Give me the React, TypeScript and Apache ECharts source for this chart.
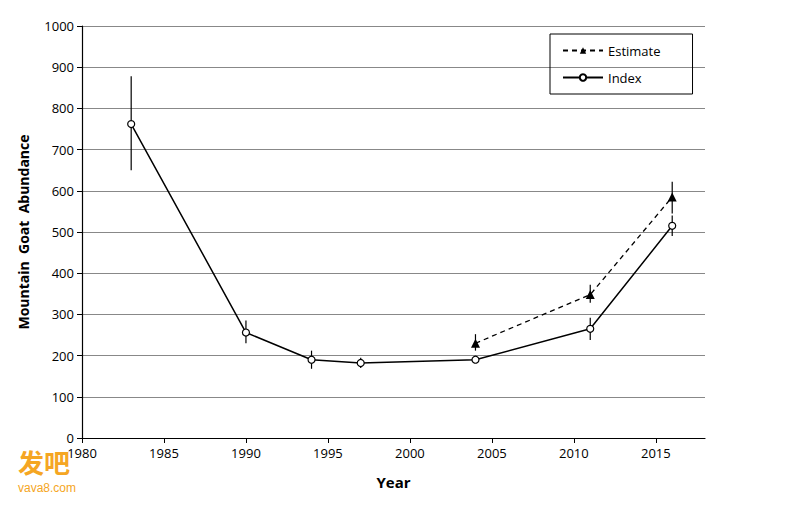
import React, { useEffect, useRef } from "react";
import * as echarts from "echarts";

const indexYears = [1983, 1990, 1994, 1997, 2004, 2011, 2016];
const indexValues = [762, 256, 190, 182, 190, 265, 515];
const indexLow = [650, 230, 168, 170, 183, 238, 490];
const indexHigh = [878, 285, 212, 195, 197, 292, 540];

const estYears = [2004, 2011, 2016];
const estValues = [230, 348, 585];
const estLow = [212, 328, 545];
const estHigh = [252, 372, 622];

const errSeries = (years: number[], lo: number[], hi: number[]) => ({
  type: "custom",
  silent: true,
  z: 1,
  data: years.map((y, i) => [y, lo[i], hi[i]]),
  renderItem: (_p: any, api: any) => {
    const a = api.coord([api.value(0), api.value(1)]);
    const b = api.coord([api.value(0), api.value(2)]);
    return {
      type: "line",
      shape: { x1: a[0], y1: a[1], x2: b[0], y2: b[1] },
      style: { stroke: "#000", lineWidth: 1.2 },
    };
  },
});

const App: React.FC = () => {
  const ref = useRef<HTMLDivElement>(null);

  useEffect(() => {
    if (!ref.current) return;
    const chart = echarts.init(ref.current, null, { renderer: "svg" });
    chart.setOption({
      animation: false,
      textStyle: { fontFamily: "Open Sans" },
      grid: { left: 74, right: 87, top: 18, bottom: 67 },
      legend: {
        orient: "vertical",
        left: 542,
        top: 26,
        width: 132,
        padding: [10, 32, 10, 12],
        itemGap: 14,
        itemWidth: 40,
        itemHeight: 8,
        borderColor: "#000",
        borderWidth: 1,
        textStyle: { fontSize: 13, color: "#000" },
        data: ["Estimate", "Index"],
      },
      xAxis: {
        type: "value",
        min: 1980,
        max: 2018,
        interval: 5,
        name: "Year",
        nameLocation: "middle",
        nameGap: 36,
        nameTextStyle: { fontSize: 15, fontWeight: "bold", color: "#000" },
        axisLine: { lineStyle: { color: "#000", width: 1.2 } },
        axisTick: { show: true, length: 5, lineStyle: { color: "#000" } },
        axisLabel: { color: "#000", fontSize: 13, showMaxLabel: false, formatter: (v: number) => String(v) },
        splitLine: { show: false },
      },
      yAxis: {
        type: "value",
        min: 0,
        max: 1000,
        interval: 100,
        name: "Mountain  Goat  Abundance",
        nameLocation: "middle",
        nameGap: 52,
        nameTextStyle: { fontSize: 14, fontWeight: "bold", color: "#000" },
        axisLine: { show: true, lineStyle: { color: "#000", width: 1.2 } },
        axisTick: { show: true, length: 5, lineStyle: { color: "#000" } },
        axisLabel: { color: "#000", fontSize: 13, formatter: (v: number) => String(v) },
        splitLine: { lineStyle: { color: "#888", width: 1 } },
      },
      series: [
        errSeries(indexYears, indexLow, indexHigh),
        errSeries(estYears, estLow, estHigh),
        {
          name: "Estimate",
          type: "line",
          z: 3,
          data: estYears.map((y, i) => [y, estValues[i]]),
          symbol: "triangle",
          symbolSize: 9,
          itemStyle: { color: "#000" },
          lineStyle: { color: "#000", width: 1.3, type: [5, 4] },
        },
        {
          name: "Index",
          type: "line",
          z: 3,
          data: indexYears.map((y, i) => [y, indexValues[i]]),
          symbol: "circle",
          symbolSize: 7,
          itemStyle: { color: "#fff", borderColor: "#000", borderWidth: 1.2 },
          lineStyle: { color: "#000", width: 1.5 },
        },
      ],
      graphic: [
        {
          type: "text",
          left: 10,
          top: 440,
          style: { text: "发吧", fontSize: 26, fontWeight: "bold", fill: "#f5a623", fontFamily: "Noto Sans CJK SC" },
        },
        {
          type: "text",
          left: 10,
          top: 474,
          style: { text: "vava8.com", fontSize: 12, fill: "#f5a623" },
        },
      ],
    });
    return () => chart.dispose();
  }, []);

  return <div ref={ref} style={{ width: 784, height: 497 }} />;
};

export default App;
